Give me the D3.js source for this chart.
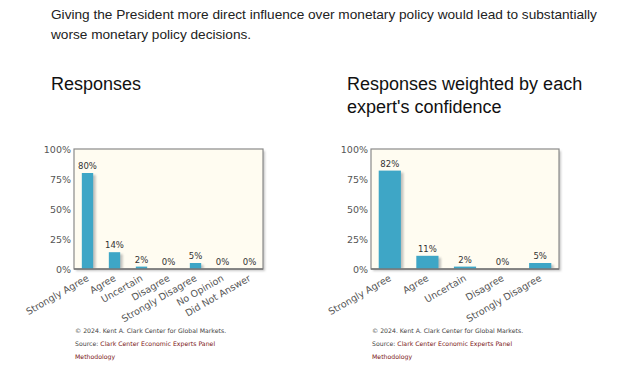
<!DOCTYPE html>
<html>
<head>
<meta charset="utf-8">
<script src="https://cdn.jsdelivr.net/npm/d3@7"></script>
<style>
  body { margin: 0; background: #fff; }
  svg { display: block; }
</style>
</head>
<body>
<svg id="chart" width="624" height="371"></svg>
<script>
// --- datos ---
const question = [
  "Giving the President more direct influence over monetary policy would lead to substantially",
  "worse monetary policy decisions."
];

const catsAll = ["Strongly Agree", "Agree", "Uncertain", "Disagree", "Strongly Disagree", "No Opinion", "Did Not Answer"];
const valsAll = [80, 14, 2, 0, 5, 0, 0];

const catsWeighted = ["Strongly Agree", "Agree", "Uncertain", "Disagree", "Strongly Disagree"];
const valsWeighted = [82, 11, 2, 0, 5];

const yTicks = [0, 25, 50, 75, 100];

const BAR = "#3ea6c6";
const AXIS_TXT = "#555";

const svg = d3.select("#chart");

// sombra difusa
const defs = svg.append("defs");
defs.append("filter").attr("id", "blur")
  .attr("x", "-50%").attr("y", "-50%").attr("width", "200%").attr("height", "200%")
  .append("feGaussianBlur").attr("stdDeviation", 1.2);

// pregunta
svg.append("g").selectAll("text")
  .data(question)
  .join("text")
  .attr("x", 51)
  .attr("y", (d, i) => 19 + i * 20)
  .attr("font-family", "Liberation Sans, Arial, sans-serif")
  .attr("font-size", 13.65)
  .attr("fill", "#222")
  .text(d => d);

function drawPanel(opts) {
  const { cats, vals, left, right, titleX, titleLines, padding } = opts;
  const top = 149, bottom = 269;
  const g = svg.append("g");

  g.selectAll("text.ttl")
    .data(titleLines)
    .join("text")
    .attr("class", "ttl")
    .attr("x", titleX)
    .attr("y", (d, i) => 90 + i * 23)
    .attr("font-family", "Liberation Sans, Arial, sans-serif")
    .attr("font-size", 18)
    .attr("fill", "#111")
    .text(d => d);

  const x = d3.scaleBand().domain(cats).range([left, right]).paddingInner(padding).paddingOuter(padding / 2);
  const y = d3.scaleLinear().domain([0, 100]).range([bottom, top]);

  // sombra del marco
  g.append("rect")
    .attr("x", left + 2).attr("y", top + 2)
    .attr("width", right - left).attr("height", bottom - top)
    .attr("fill", "#c8c8c8")
    .attr("filter", "url(#blur)");

  g.append("rect")
    .attr("x", left).attr("y", top)
    .attr("width", right - left).attr("height", bottom - top)
    .attr("fill", "#fffcf1")
    .attr("stroke", "#8a8a8a")
    .attr("stroke-width", 1.2);

  // sombras de barras
  g.selectAll("rect.shadow")
    .data(vals.map((v, i) => ({ c: cats[i], v })).filter(d => d.v > 0))
    .join("rect")
    .attr("class", "shadow")
    .attr("x", d => x(d.c) + 2.5)
    .attr("y", d => y(d.v) + 2)
    .attr("width", x.bandwidth())
    .attr("height", d => bottom - y(d.v) - 2)
    .attr("fill", "#9a9a9a")
    .attr("opacity", 0.6)
    .attr("filter", "url(#blur)");

  g.selectAll("rect.bar")
    .data(vals.map((v, i) => ({ c: cats[i], v })))
    .join("rect")
    .attr("class", "bar")
    .attr("x", d => x(d.c))
    .attr("y", d => y(d.v))
    .attr("width", x.bandwidth())
    .attr("height", d => bottom - y(d.v))
    .attr("fill", BAR);

  // eje inferior (redibuja la línea)
  g.append("line")
    .attr("x1", left).attr("x2", right)
    .attr("y1", bottom).attr("y2", bottom)
    .attr("stroke", "#777").attr("stroke-width", 1.5);

  // etiquetas de valor
  g.selectAll("text.val")
    .data(vals.map((v, i) => ({ c: cats[i], v })))
    .join("text")
    .attr("class", "val")
    .attr("x", d => x(d.c) + x.bandwidth() / 2)
    .attr("y", d => y(d.v) - 4)
    .attr("text-anchor", "middle")
    .attr("font-family", "DejaVu Sans, Verdana, sans-serif")
    .attr("font-size", 8.5)
    .attr("fill", "#333")
    .text(d => d.v + "%");

  // eje y
  const yAxis = g.append("g")
    .attr("transform", `translate(${left},0)`)
    .call(d3.axisLeft(y).tickValues(yTicks).tickSize(0).tickPadding(3).tickFormat(d => d + "%"));
  yAxis.select(".domain").remove();
  yAxis.selectAll("text")
    .attr("font-family", "DejaVu Sans, Verdana, sans-serif")
    .attr("font-size", 9.5)
    .attr("fill", AXIS_TXT);

  // eje x
  const xAxis = g.append("g")
    .attr("transform", `translate(0,${bottom})`)
    .call(d3.axisBottom(x).tickSize(0).tickPadding(0));
  xAxis.select(".domain").remove();
  xAxis.selectAll("text")
    .attr("font-family", "DejaVu Sans, Verdana, sans-serif")
    .attr("font-size", 9.5)
    .attr("fill", AXIS_TXT)
    .attr("text-anchor", "end")
    .attr("dy", 0)
    .attr("transform", "translate(2,11) rotate(-30)");

  // pie
  const foot = g.append("g")
    .attr("font-family", "DejaVu Sans, Verdana, sans-serif")
    .attr("font-size", 6.2);
  foot.append("text").attr("x", left + 1).attr("y", 333).attr("fill", "#444")
    .text("© 2024. Kent A. Clark Center for Global Markets.");
  const src = foot.append("text").attr("x", left + 1).attr("y", 346).attr("fill", "#444");
  src.append("tspan").text("Source: ");
  src.append("tspan").attr("fill", "#7a1515").text("Clark Center Economic Experts Panel");
  foot.append("text").attr("x", left + 1).attr("y", 359).attr("fill", "#7a1515")
    .text("Methodology");
}

drawPanel({
  cats: catsAll, vals: valsAll,
  left: 74, right: 263, padding: 0.58,
  titleX: 51, titleLines: ["Responses"]
});

drawPanel({
  cats: catsWeighted, vals: valsWeighted,
  left: 371, right: 559, padding: 0.41,
  titleX: 347, titleLines: ["Responses weighted by each", "expert's confidence"]
});
</script>
</body>
</html>
